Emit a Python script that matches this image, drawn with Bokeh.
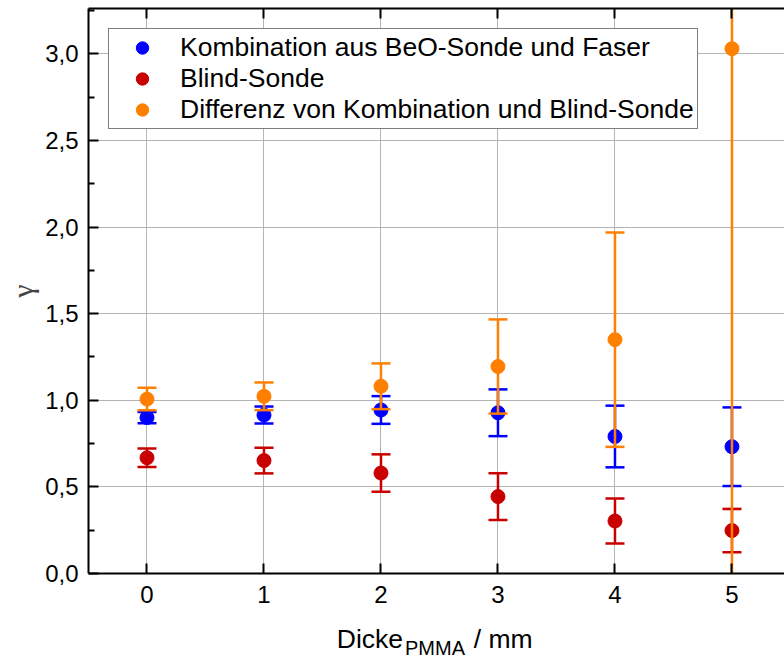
from bokeh.plotting import figure
from bokeh.models import (ColumnDataSource, FixedTicker, LinearAxis, Range1d,
                          CustomJSTickFormatter)
from bokeh.embed import file_html
from bokeh.resources import INLINE

# PMMA thickness in mm
thickness = [0, 1, 2, 3, 4, 5]

# gamma values with their uncertainties
kombi = [0.900, 0.915, 0.944, 0.928, 0.791, 0.732]
kombi_err = [0.033, 0.049, 0.080, 0.135, 0.178, 0.227]

blind = [0.668, 0.652, 0.580, 0.444, 0.303, 0.248]
blind_err = [0.053, 0.074, 0.108, 0.135, 0.130, 0.125]

diff = [1.007, 1.023, 1.081, 1.195, 1.350, 3.030]
diff_err = [0.065, 0.080, 0.132, 0.272, 0.619, 3.300]

series_names = ["Kombination aus BeO-Sonde und Faser",
                "Blind-Sonde",
                "Differenz von Kombination und Blind-Sonde"]
series_colors = ["#0000FF", "#C80000", "#FF8000"]

y_ticks = [0.0, 0.5, 1.0, 1.5, 2.0, 2.5, 3.0]
y_minor = [0.25, 0.75, 1.25, 1.75, 2.25, 2.75, 3.25]

# x axis title: main words and the subscript
title_words = ["Dicke", "/ mm"]
title_sub = ["PMMA"]

FONT = "Liberation Sans"

p = figure(width=784, height=661, output_backend="svg", toolbar_location=None,
           x_range=Range1d(-0.5, 5.449), y_range=Range1d(0, 3.262),
           min_border_left=88, min_border_right=0, min_border_top=8,
           min_border_bottom=88)
p.outline_line_color = None
p.border_fill_color = "white"

comma = CustomJSTickFormatter(code="return tick.toFixed(1).replace('.', ',');")

# axes
xax = p.xaxis[0]
xax.ticker = FixedTicker(ticks=thickness)
yax = p.yaxis[0]
yax.ticker = FixedTicker(ticks=y_ticks, minor_ticks=y_minor)
yax.formatter = comma
yax.axis_label = "γ"
yax.axis_label_text_font = "Liberation Serif"
yax.axis_label_text_font_style = "normal"
yax.axis_label_text_font_size = "30px"
yax.axis_label_standoff = 3

for ax in (xax, yax):
    ax.axis_line_color = "black"
    ax.axis_line_width = 2
    ax.major_tick_line_color = "black"
    ax.major_tick_line_width = 2
    ax.minor_tick_line_color = "black"
    ax.minor_tick_line_width = 2
    ax.major_tick_in = 10
    ax.major_tick_out = 0
    ax.minor_tick_in = 6
    ax.minor_tick_out = 0
    ax.major_label_text_font = FONT
    ax.major_label_text_font_size = "24px"
    ax.major_label_text_color = "black"
xax.major_label_standoff = 12
yax.major_label_standoff = 10


def text_axis(positions, words, size, standoff):
    """A bare axis below the plot that only shows words at given x positions."""
    return LinearAxis(
        ticker=FixedTicker(ticks=positions),
        formatter=CustomJSTickFormatter(args=dict(words=words),
                                        code="return words[index];"),
        axis_line_color=None, major_tick_line_color=None,
        minor_tick_line_color=None, major_tick_in=0, major_tick_out=0,
        major_label_text_font=FONT, major_label_text_font_size=size,
        major_label_text_color="black", major_label_standoff=standoff)


# x axis title, the subscript sits slightly lower than the words
p.add_layout(text_axis([1.906, 3.045], title_words, "26.5px", 18), "below")
p.add_layout(text_axis([2.462], title_sub, "20px", -20), "below")

# top frame edge with inward ticks, no labels
top = LinearAxis(ticker=FixedTicker(ticks=thickness), axis_line_width=2,
                 axis_line_color="black", major_tick_in=10, major_tick_out=0,
                 major_tick_line_width=2, major_label_text_color=None,
                 major_label_overrides={t: "" for t in thickness},
                 major_label_standoff=0, minor_tick_line_color=None)
p.add_layout(top, "above")

# grid
for g in (p.xgrid[0], p.ygrid[0]):
    g.grid_line_color = "#b4b4b4"
    g.grid_line_width = 1
p.xgrid[0].ticker = FixedTicker(ticks=thickness)
p.ygrid[0].ticker = FixedTicker(ticks=y_ticks)

# data series with error bars
for name, color, vals, errs in zip(series_names, series_colors,
                                   [kombi, blind, diff],
                                   [kombi_err, blind_err, diff_err]):
    src = ColumnDataSource(dict(
        x=thickness, y=vals,
        lo=[v - e for v, e in zip(vals, errs)],
        hi=[v + e for v, e in zip(vals, errs)],
    ))
    p.segment(x0="x", y0="lo", x1="x", y1="hi", source=src,
              line_color=color, line_width=2.5)
    p.scatter(x="x", y="lo", source=src, marker="dash", size=19,
              line_color=color, line_width=2.5)
    p.scatter(x="x", y="hi", source=src, marker="dash", size=19,
              line_color=color, line_width=2.5)
    p.scatter(x="x", y="y", source=src, marker="circle", size=14,
              fill_color=color, line_color=color, legend_label=name)

leg = p.legend[0]
leg.location = "top_left"
leg.margin = 20
leg.padding = 3
leg.spacing = 0
leg.glyph_width = 60
leg.glyph_height = 31
leg.label_height = 31
leg.label_standoff = 8
leg.label_text_font = FONT
leg.label_text_font_size = "26.5px"
leg.label_text_color = "black"
leg.border_line_color = "black"
leg.border_line_width = 1
leg.background_fill_alpha = 1

open("out.html", "w").write(file_html(p, INLINE))
